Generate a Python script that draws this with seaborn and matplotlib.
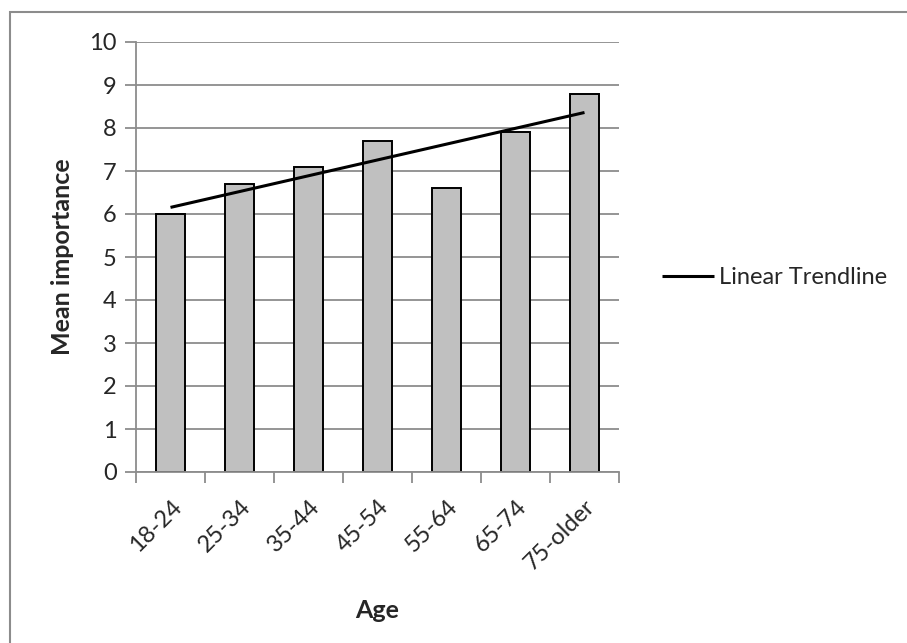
import numpy as np
import pandas as pd
import matplotlib
matplotlib.use("Agg")
import matplotlib.pyplot as plt
from matplotlib.patches import Rectangle
import seaborn as sns

# Mean importance by age group
ages = ["18-24", "25-34", "35-44", "45-54", "55-64", "65-74", "75-older"]
mean_importance = [6.0, 6.7, 7.1, 7.7, 6.6, 7.9, 8.8]
y_ticks = list(range(0, 11))

df = pd.DataFrame({"Age": ages, "Mean importance": mean_importance})

sns.set_style("white")
plt.rcParams["font.family"] = ["Lato", "DejaVu Sans"]

fig = plt.figure(figsize=(9.07, 6.43), dpi=100)
ax = fig.add_axes([136 / 907, 1 - 472 / 643, (619 - 136) / 907, (472 - 42) / 643])

grid_c = "#8c8c8c"
ax.set_axisbelow(True)
ax.yaxis.grid(True, color=grid_c, linewidth=1.3)

sns.barplot(data=df, x="Age", y="Mean importance", color="#c0c0c0",
            edgecolor="black", linewidth=1.4, width=0.41, saturation=1, ax=ax)

# Least-squares linear trend through the bar means
xs = np.arange(len(ages))
slope, intercept = np.polyfit(xs + 1, mean_importance, 1)
ax.plot(xs, slope * (xs + 1) + intercept, color="black", linewidth=2.2,
        label="Linear Trendline", solid_capstyle="butt")

ax.set_xlim(-0.5, len(ages) - 0.5)
ax.set_ylim(0, 10)
ax.set_yticks(y_ticks)
ax.tick_params(axis="y", length=8, width=1.3, color=grid_c, labelsize=17, pad=6, left=True)

ax.set_xticks(xs)
ax.set_xticks(np.arange(-0.5, len(ages)), minor=True)
ax.tick_params(axis="x", which="major", length=0, labelsize=17, pad=17)
ax.tick_params(axis="x", which="minor", length=8, width=1.3, color=grid_c, bottom=True)
for lbl in ax.get_xticklabels():
    lbl.set_rotation(45)
    lbl.set_ha("right")
    lbl.set_rotation_mode("anchor")

for side in ["top", "right"]:
    ax.spines[side].set_visible(False)
for side in ["left", "bottom"]:
    ax.spines[side].set_color(grid_c)
    ax.spines[side].set_linewidth(1.3)

ax.set_xlabel("Age", fontsize=18, fontweight="bold", labelpad=18)
ax.set_ylabel("Mean importance", fontsize=18, fontweight="bold", labelpad=11)

fig.legend(loc="center left", bbox_to_anchor=(641 / 907, 1 - 278 / 643),
           frameon=False, fontsize=17, handlelength=2.2, handletextpad=0.2)

# Chart-area border
fig.patches.append(Rectangle((10 / 907, -0.1), 1.2, 1.1 - 12 / 643,
                             transform=fig.transFigure, fill=False,
                             edgecolor=grid_c, linewidth=1.5, zorder=-1))

fig.savefig("out.png", dpi=100, facecolor="white")
